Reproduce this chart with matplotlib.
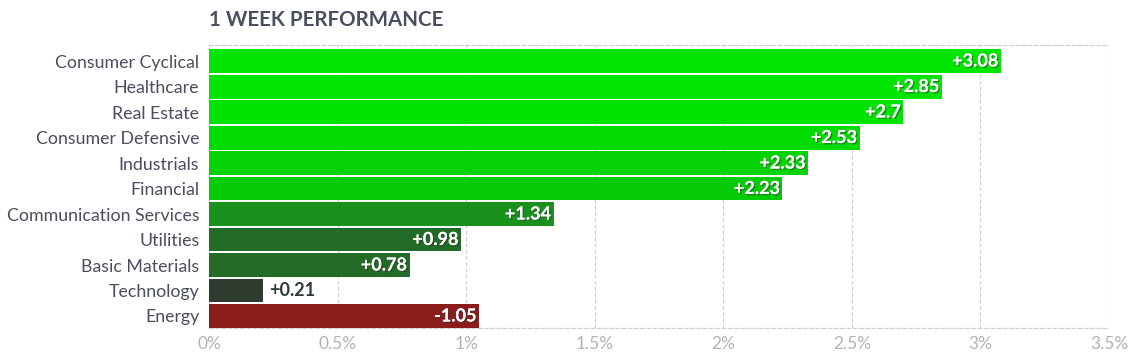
import matplotlib
matplotlib.use("Agg")
import matplotlib.pyplot as plt
import matplotlib.patheffects as pe
from matplotlib.ticker import FuncFormatter

sectors = ["Consumer Cyclical", "Healthcare", "Real Estate", "Consumer Defensive",
           "Industrials", "Financial", "Communication Services", "Utilities",
           "Basic Materials", "Technology", "Energy"]
perf = [3.08, 2.85, 2.7, 2.53, 2.33, 2.23, 1.34, 0.98, 0.78, 0.21, -1.05]
value_labels = ["+3.08", "+2.85", "+2.7", "+2.53", "+2.33", "+2.23", "+1.34",
                "+0.98", "+0.78", "+0.21", "-1.05"]
x_ticks = [0, 0.5, 1, 1.5, 2, 2.5, 3, 3.5]

colors = ["#00e600", "#00e600", "#00e300", "#02dc02", "#05d305", "#07cb07",
          "#18921c", "#236c27", "#246b27", "#2e3c30", "#8a1c1c"]

plt.rcParams['font.family'] = ['Lato', 'DejaVu Sans']

fig = plt.figure(figsize=(11.36, 3.56), dpi=100)
ax = fig.add_axes([0.184, 0.0787, 0.7922, 0.795])

ypos = list(range(len(sectors)))
widths = [abs(v) for v in perf]
ax.barh(ypos, widths, height=0.94, color=colors, zorder=3)

for y, w, lab in zip(ypos, widths, value_labels):
    if w < 0.4:
        ax.text(w + 0.025, y, lab, ha='left', va='center', fontsize=13,
                fontweight='bold', color='#2e3c30', zorder=4)
    else:
        ax.text(w - 0.01, y, lab, ha='right', va='center', fontsize=13,
                fontweight='bold', color='white', zorder=4,
                path_effects=[pe.withSimplePatchShadow(offset=(1, -1), shadow_rgbFace='#333333', alpha=0.5),
                              pe.Normal()])

ax.set_xlim(0, 3.5)
ax.set_ylim(len(sectors) - 0.53, -0.63)
ax.set_yticks(ypos)
ax.set_yticklabels(sectors, fontsize=12.8, color='#4a4f5e')
ax.set_xticks(x_ticks)
ax.xaxis.set_major_formatter(FuncFormatter(lambda v, p: f"{v:g}%"))
ax.tick_params(axis='x', labelsize=12.5, colors='#b0b3b8', length=0, pad=6)
ax.tick_params(axis='y', length=0, pad=7)

ax.grid(axis='x', color='#d0d0d0', linestyle=(0, (3, 2)), linewidth=0.9, zorder=0)
for s in ['left', 'right']:
    ax.spines[s].set_visible(False)
for s in ['top', 'bottom']:
    ax.spines[s].set_color('#d0d0d0')
    ax.spines[s].set_linestyle((0, (3, 2)))
    ax.spines[s].set_linewidth(0.9)

fig.text(0.184, 0.945, "1 WEEK PERFORMANCE", fontsize=14.8, fontweight='bold',
         color='#4a4f5e', ha='left', va='center')

fig.savefig("out.png", dpi=100)
